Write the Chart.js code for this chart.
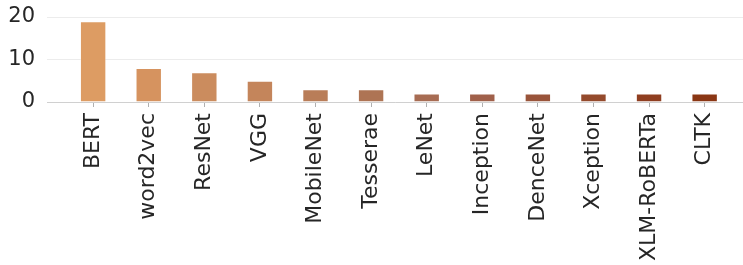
<!DOCTYPE html>
<html>
<head>
<meta charset="utf-8">
<script src="https://cdn.jsdelivr.net/npm/chart.js@4/dist/chart.umd.min.js"></script>
<style>
  html, body { margin: 0; padding: 0; background: #ffffff; }
  #wrap { width: 743px; height: 265px; }
</style>
</head>
<body>
<div id="wrap"><canvas id="c" width="743" height="265"></canvas></div>
<script>
const categories = ["BERT", "word2vec", "ResNet", "VGG", "MobileNet", "Tesserae", "LeNet", "Inception", "DenceNet", "Xception", "XLM-RoBERTa", "CLTK"];
const counts = [19, 8, 7, 5, 3, 3, 2, 2, 2, 2, 2, 2];
const barColors = ["#DD9C63", "#D6935F", "#CB8C5E", "#C4855B", "#B97D58", "#AE7454", "#A76C53", "#A0604A", "#99543A", "#944A2C", "#8F3E20", "#8A3614"];
const yTicks = [0, 10, 20];

const points = categories.map((c, i) => ({ x: i, y: counts[i] }));

new Chart(document.getElementById('c'), {
  type: 'bar',
  data: {
    datasets: [{
      data: points,
      backgroundColor: barColors,
      borderColor: 'rgba(255,255,255,0.35)',
      borderWidth: 1,
      categoryPercentage: 1,
      barPercentage: 0.475
    }]
  },
  options: {
    responsive: false,
    animation: false,
    layout: { padding: { top: 17, right: 0, bottom: 0, left: 0 } },
    plugins: { legend: { display: false }, tooltip: { enabled: false } },
    scales: {
      x: {
        type: 'linear',
        offset: false,
        min: -0.83,
        max: 11.69,
        afterBuildTicks: (scale) => { scale.ticks = categories.map((c, i) => ({ value: i })); },
        afterFit: (scale) => { scale.height = 163; },
        grid: { display: true, offset: false, drawOnChartArea: false, drawTicks: true, tickLength: 5, tickColor: '#b0b0b0', lineWidth: 1 },
        border: { display: true, color: '#d0d0d0', width: 1 },
        ticks: {
          autoSkip: false,
          minRotation: 90,
          maxRotation: 90,
          padding: 6,
          color: '#262626',
          font: { family: 'DejaVu Sans', size: 22 },
          callback: (v) => categories[Math.round(v)]
        }
      },
      y: {
        min: 0,
        max: 20,
        afterBuildTicks: (scale) => { scale.ticks = yTicks.map(v => ({ value: v })); },
        afterFit: (scale) => { scale.width = 47; },
        grid: { color: '#ececec', lineWidth: 1, drawTicks: true, tickLength: 12, tickColor: 'rgba(0,0,0,0)' },
        border: { display: false },
        ticks: {
          padding: 0,
          color: '#262626',
          font: { family: 'DejaVu Sans', size: 21 }
        }
      }
    }
  }
});
</script>
</body>
</html>
